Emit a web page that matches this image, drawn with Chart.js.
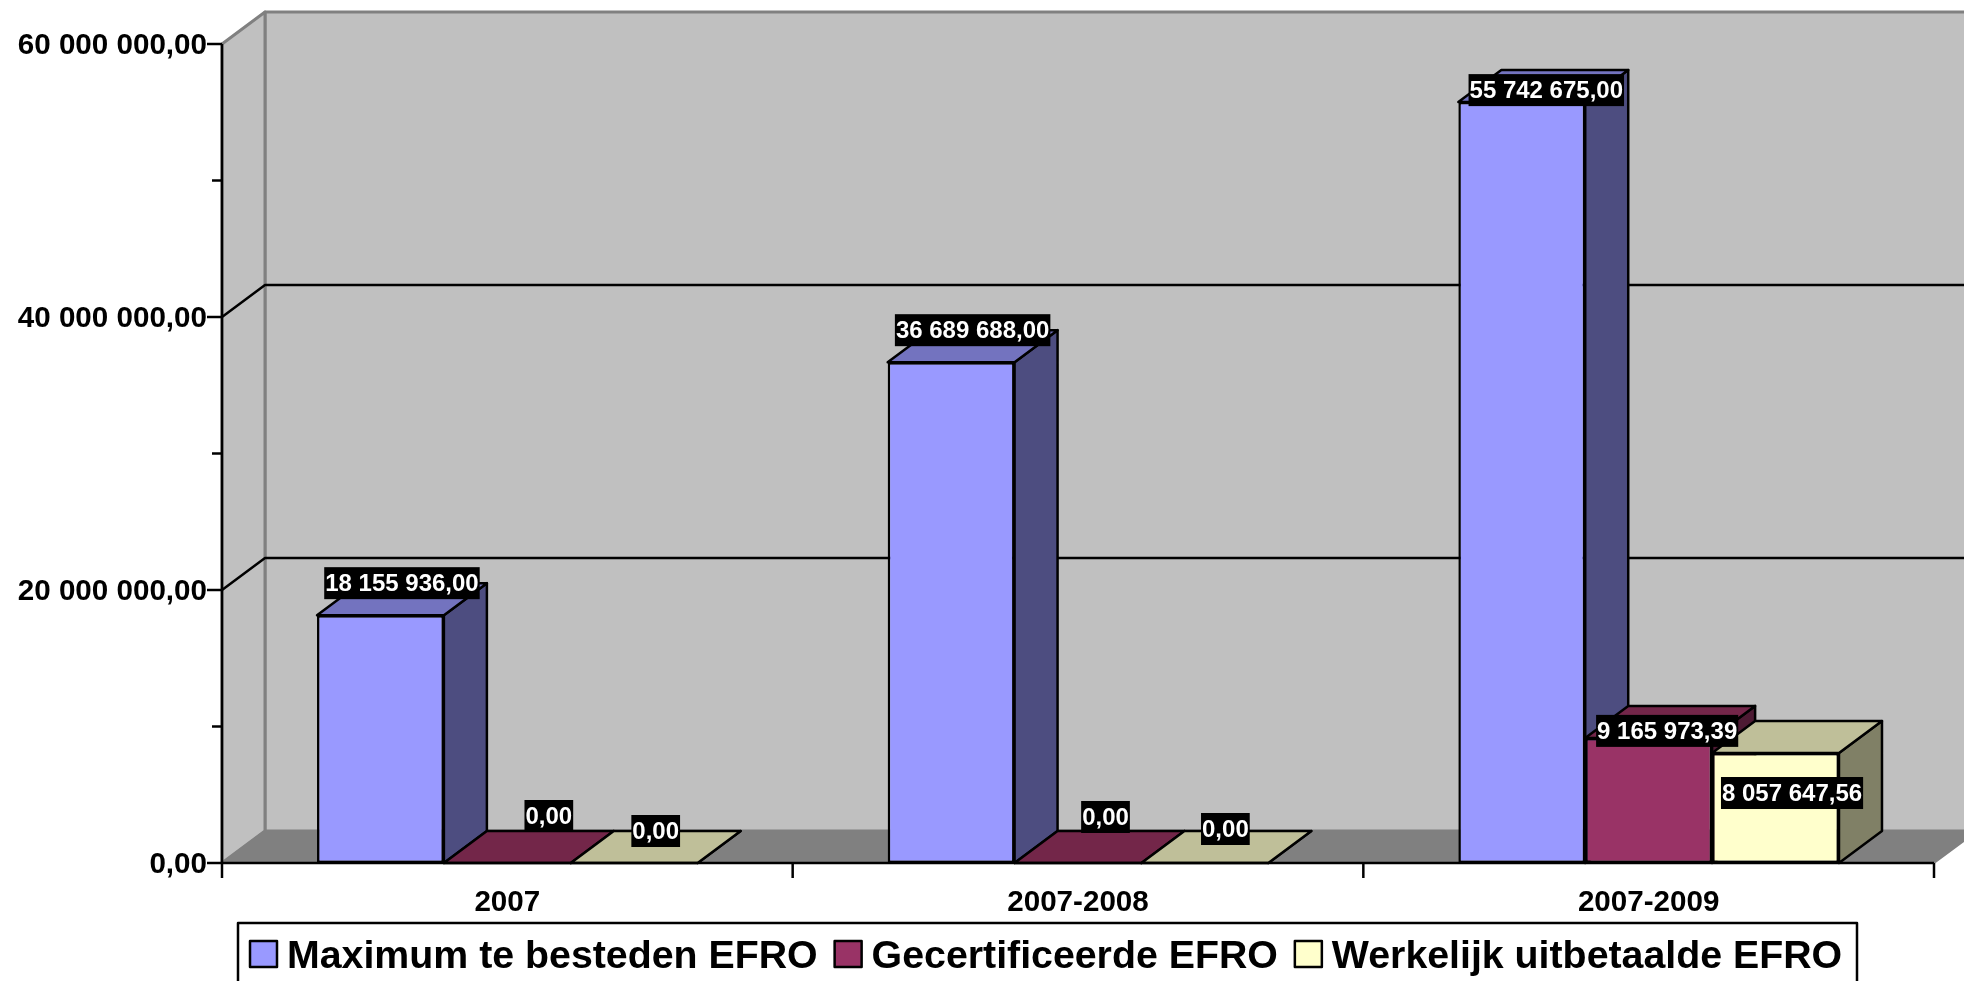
<!DOCTYPE html>
<html>
<head>
<meta charset="utf-8">
<title>EFRO</title>
<script src="https://cdn.jsdelivr.net/npm/chart.js@4/dist/chart.umd.min.js"></script>
<style>
    html, body { margin: 0; padding: 0; background: #fff; }
    canvas { display: block; }
</style>
</head>
<body>
<canvas id="efroChart" width="1964" height="981"></canvas>
<script>
const categories = ['2007', '2007-2008', '2007-2009'];
const seriesNames = ['Maximum te besteden EFRO', 'Gecertificeerde EFRO', 'Werkelijk uitbetaalde EFRO'];
const maximumEfro = [18155936.00, 36689688.00, 55742675.00];
const certifiedEfro = [0, 0, 9165973.39];
const paidEfro = [0, 0, 8057647.56];

const frontColors = ['#9999FF', '#993366', '#FFFFCC'];
const sideColors = ['#4D4D80', '#4D1A33', '#808066'];
const topColors = ['#7373BF', '#732649', '#BFBF99'];

// 3D depth of the box
const depthX = 43;
const depthY = -32;
const lineWidth = 2.5;

// hand placed data labels in the original, offset from the back of the bar top
const labelNudges = [
    [[0, 0], [0, 0], [3, 20]],
    [[20, -15], [6, -14], [-3, 25]],
    [[0, 0], [-1, -2], [-5, 72]]
];

const fontFamily = '"Liberation Sans", Arial, sans-serif';

function formatValue(value) {
    return value.toFixed(2).replace('.', ',').replace(/\B(?=(\d{3})+(?!\d))/g, ' ');
}

function polygon(ctx, points, fill, stroke, width) {
    ctx.beginPath();
    points.forEach((p, i) => {
        if (i === 0) ctx.moveTo(p[0], p[1]);
        else ctx.lineTo(p[0], p[1]);
    });
    ctx.closePath();
    ctx.fillStyle = fill;
    ctx.fill();
    ctx.lineWidth = width;
    ctx.strokeStyle = stroke;
    ctx.lineJoin = 'round';
    ctx.stroke();
}

function line(ctx, x1, y1, x2, y2, color, width) {
    ctx.beginPath();
    ctx.moveTo(x1, y1);
    ctx.lineTo(x2, y2);
    ctx.lineWidth = width;
    ctx.strokeStyle = color;
    ctx.stroke();
}

// walls, floor and gridlines
function drawWalls(chart) {
    const ctx = chart.ctx;
    const area = chart.chartArea;
    const yScale = chart.scales.y;
    const l = area.left, r = area.right, t = area.top, b = area.bottom;

    polygon(ctx, [[l + depthX, t + depthY], [r + depthX, t + depthY], [r + depthX, b + depthY], [l + depthX, b + depthY]], '#C0C0C0', '#808080', 3);
    polygon(ctx, [[l, t], [l + depthX, t + depthY], [l + depthX, b + depthY], [l, b]], '#C0C0C0', '#808080', 3);
    polygon(ctx, [[l, b], [l + depthX, b + depthY], [r + depthX, b + depthY], [r, b]], '#808080', '#808080', 2);

    yScale.ticks.forEach(tick => {
        if (tick.value === 0 || tick.value === yScale.max || tick.value % 20000000 !== 0) return;
        const y = yScale.getPixelForValue(tick.value);
        ctx.beginPath();
        ctx.moveTo(l, y);
        ctx.lineTo(l + depthX, y + depthY);
        ctx.lineTo(r + depthX, y + depthY);
        ctx.lineWidth = lineWidth;
        ctx.strokeStyle = '#000';
        ctx.stroke();
    });
}

function drawAxes(chart) {
    const ctx = chart.ctx;
    const area = chart.chartArea;
    const yScale = chart.scales.y;

    line(ctx, area.left, area.top, area.left, area.bottom, '#000', lineWidth);
    line(ctx, area.left, area.bottom, area.right, area.bottom, '#000', lineWidth);
    yScale.ticks.forEach(tick => {
        const y = yScale.getPixelForValue(tick.value);
        const length = tick.value % 20000000 === 0 ? 15 : 10;
        line(ctx, area.left - length, y, area.left, y, '#000', lineWidth);
    });
    for (let i = 0; i <= categories.length; i++) {
        const x = area.left + i * area.width / categories.length;
        line(ctx, x, area.bottom, x, area.bottom + 15, '#000', lineWidth);
    }
}

function drawDataLabels(chart) {
    const ctx = chart.ctx;
    ctx.font = 'bold 24px ' + fontFamily;
    ctx.textAlign = 'center';
    ctx.textBaseline = 'middle';
    chart.data.datasets.forEach((dataset, i) => {
        chart.getDatasetMeta(i).data.forEach((bar, j) => {
            const text = formatValue(dataset.data[j]);
            const x = bar.x + depthX / 2 + labelNudges[i][j][0];
            const y = bar.y + depthY + labelNudges[i][j][1];
            const w = ctx.measureText(text).width + 2;
            ctx.fillStyle = '#000';
            ctx.fillRect(x - w / 2, y - 16, w, 32);
            ctx.fillStyle = '#fff';
            ctx.fillText(text, x, y + 1);
        });
    });
}

function drawLegend(chart) {
    const ctx = chart.ctx;
    const top = 923;
    ctx.font = 'bold 39.3px ' + fontFamily;
    ctx.textAlign = 'left';
    ctx.textBaseline = 'middle';

    ctx.fillStyle = '#fff';
    ctx.fillRect(238, top, 1619, 80);
    ctx.lineWidth = lineWidth;
    ctx.strokeStyle = '#000';
    ctx.strokeRect(238, top, 1619, 80);

    let x = 250;
    chart.data.datasets.forEach((dataset, i) => {
        ctx.fillStyle = frontColors[i];
        ctx.fillRect(x, 941, 27, 26);
        ctx.strokeRect(x, 941, 27, 26);
        ctx.fillStyle = '#000';
        ctx.fillText(dataset.label, x + 37, 957);
        x += 37 + ctx.measureText(dataset.label).width + 17;
    });
}

const box3d = {
    id: 'box3d',
    beforeDraw(chart) {
        drawWalls(chart);
    },
    beforeDatasetsDraw(chart) {
        const ctx = chart.ctx;
        // left to right, so each box hides the side of the one before it
        chart.data.datasets.forEach((dataset, i) => {
            chart.getDatasetMeta(i).data.forEach(bar => {
                const left = bar.x - bar.width / 2;
                const right = bar.x + bar.width / 2;
                polygon(ctx, [[right, bar.y], [right + depthX, bar.y + depthY], [right + depthX, bar.base + depthY], [right, bar.base]], sideColors[i], '#000', lineWidth);
                polygon(ctx, [[left, bar.y], [left + depthX, bar.y + depthY], [right + depthX, bar.y + depthY], [right, bar.y]], topColors[i], '#000', lineWidth);
                bar.draw(ctx);
            });
        });
        drawAxes(chart);
        drawDataLabels(chart);
        drawLegend(chart);
        return false;
    }
};

new Chart(document.getElementById('efroChart'), {
    type: 'bar',
    data: {
        labels: categories,
        datasets: [maximumEfro, certifiedEfro, paidEfro].map((values, i) => ({
            label: seriesNames[i],
            data: values,
            backgroundColor: frontColors[i],
            borderColor: '#000',
            borderWidth: lineWidth,
            borderSkipped: false,
            categoryPercentage: 0.667,
            barPercentage: 1
        }))
    },
    options: {
        responsive: false,
        animation: false,
        devicePixelRatio: 1,
        layout: { padding: { top: 44, right: 30 } },
        plugins: {
            legend: { display: false },
            tooltip: { enabled: false }
        },
        scales: {
            x: {
                grid: { display: false, drawTicks: false },
                border: { display: false },
                afterFit(scale) { scale.height = 118; },
                ticks: {
                    color: '#000',
                    padding: 22,
                    maxRotation: 0,
                    autoSkip: false,
                    font: { family: fontFamily, size: 29.6, weight: 'bold' }
                }
            },
            y: {
                min: 0,
                max: 60000000,
                grid: { display: false, drawTicks: false },
                border: { display: false },
                afterFit(scale) { scale.width = 222; },
                ticks: {
                    stepSize: 10000000,
                    color: '#000',
                    padding: 15,
                    labelOffset: 2,
                    autoSkip: false,
                    font: { family: fontFamily, size: 29.6, weight: 'bold' },
                    callback: value => value % 20000000 === 0 ? formatValue(value) : ''
                }
            }
        }
    },
    plugins: [box3d]
});
</script>
</body>
</html>
